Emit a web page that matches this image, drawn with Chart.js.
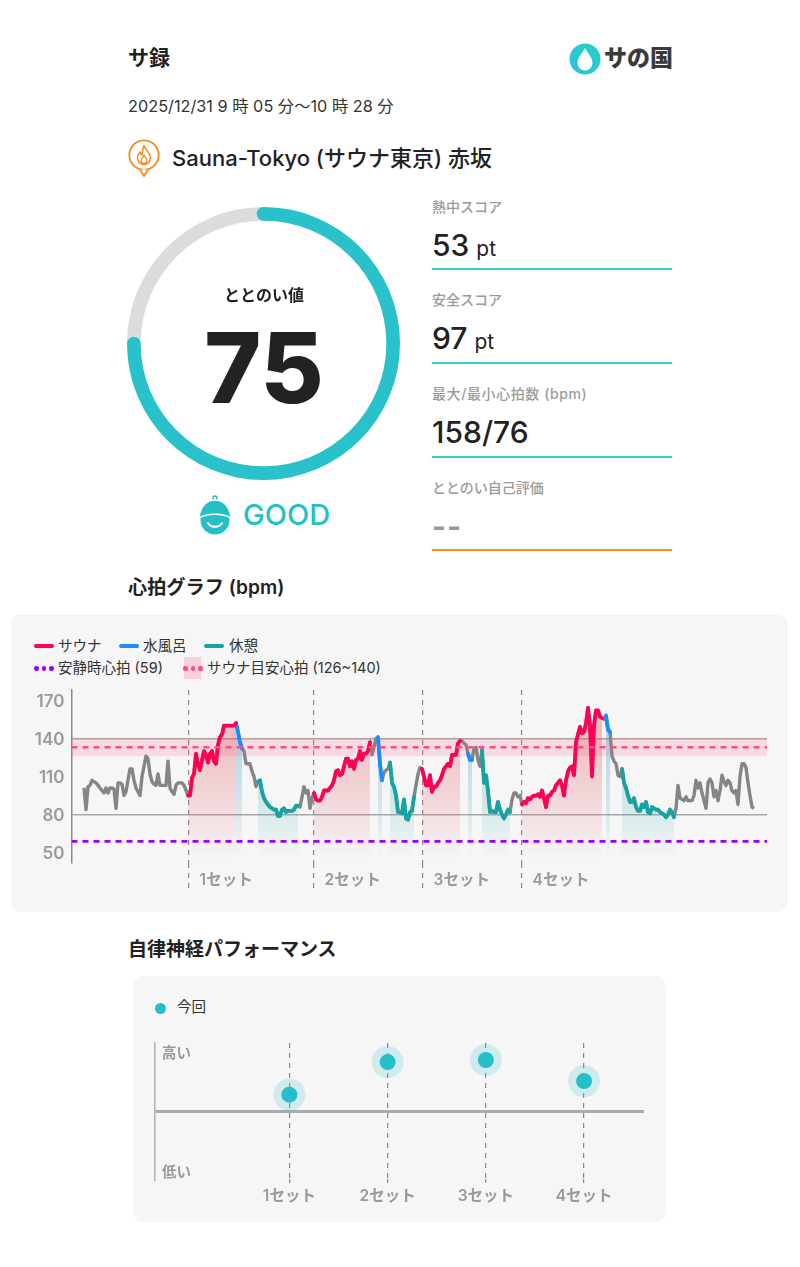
<!DOCTYPE html>
<html lang="ja"><head><meta charset="utf-8">
<script src="https://cdn.jsdelivr.net/npm/chart.js@4"></script>
<style>
html,body{margin:0;padding:0;background:#fff;width:800px;height:1267px;overflow:hidden}
body{position:relative;font-family:Inter,"Noto Sans CJK JP",sans-serif;color:#222}
.t{position:absolute;white-space:nowrap;transform:translateY(-50%);line-height:1.2}
.panel{position:absolute;background:#f6f6f6;border-radius:10px}
canvas{position:absolute;display:block}
.rule{position:absolute;left:432px;width:240px;height:2px;background:#38c9d0}
.lab{font-size:14px;font-weight:500;color:#9b9b9b;left:432px}
.val{left:432px;font-size:30px;font-weight:500;color:#222}
.val small{font-size:21px;font-weight:400;margin-left:7px}
.sw{position:absolute;height:4px;width:20px;border-radius:2px}
.lg{font-size:14.5px;color:#333}
.dots{position:absolute;width:20px;height:4px}
.dots i{position:absolute;top:0;width:4.5px;height:4.5px;border-radius:50%}
</style></head><body>
<div class="t" style="left:128px;top:58px;font-size:21px;font-weight:600">サ録</div>
<svg style="position:absolute;left:569px;top:43px" width="32" height="32" viewBox="0 0 32 32">
<defs><linearGradient id="lg" x1="0.8" y1="0" x2="0.2" y2="1"><stop offset="0" stop-color="#22d3c0"/><stop offset="1" stop-color="#33bfe8"/></linearGradient></defs>
<circle cx="16" cy="16" r="15.5" fill="url(#lg)"/><path d="M16 5C13 10.500 8.500 14.500 8.500 20a7.500 7.500 0 0 0 15 0C23.500 14.500 19 10.500 16 5Z" fill="#fff"/></svg>
<div class="t" style="left:604px;top:59px;font-size:23px;font-weight:900;color:#3a3a3a">サの国</div>
<div class="t" style="left:128px;top:106.500px;font-size:16.3px;color:#333">2025/12/31 9 時 05 分～10 時 28 分</div>
<svg style="position:absolute;left:127px;top:138px" width="34" height="40" viewBox="0 0 34 40">
<circle cx="17" cy="17" r="14.700" fill="#fff" stroke="#f28a1e" stroke-width="1.800"/>
<path d="M13 31.500 L17 38 L21 31.500" fill="#fff" stroke="#f28a1e" stroke-width="1.800" stroke-linejoin="round"/>
<path d="M17 7.500C18 12 23.500 14 23.500 20a6.500 6.500 0 0 1-13 0c0-3 1.500-4.500 2.500-6 .5 1.500 1 2.500 2 3C15.500 13 16 10 17 7.500Z" fill="none" stroke="#f28a1e" stroke-width="1.500" stroke-linejoin="round"/>
<path d="M17 17c.5 2 3 3 3 5.500a3 3 0 0 1-6 0c0-2 2.500-3 3-5.500Z" fill="none" stroke="#f28a1e" stroke-width="1.300"/></svg>
<div class="t" style="left:172px;top:158px;font-size:22px;font-weight:500;color:#222">Sauna-Tokyo (サウナ東京) 赤坂</div>

<canvas id="gauge" width="287" height="287" style="left:120px;top:200px;width:287px;height:287px"></canvas>
<div class="t" style="left:164px;width:200px;text-align:center;top:296px;font-size:16px;font-weight:600">ととのい値</div>
<div class="t" style="left:164px;width:200px;text-align:center;top:367px;font-size:97px;font-weight:800;color:#222;line-height:1">75</div>
<svg style="position:absolute;left:197px;top:494px" width="36" height="42" viewBox="0 0 36 42">
<circle cx="18" cy="4" r="2" fill="none" stroke="#25bfc8" stroke-width="1.500"/>
<circle cx="18" cy="26" r="14.500" fill="#25bfc8"/>
<path d="M2 24C3 12 10 6 18 6s15 6 16 18C26 19 10 19 2 24Z" fill="#25bfc8" stroke="#fff" stroke-width="1.500"/>
<path d="M11 29c3 5 11 5 14 0" fill="none" stroke="#fff" stroke-width="1.800" stroke-linecap="round"/></svg>
<div class="t" style="left:243px;top:515px;font-size:29px;font-weight:500;color:#25bfc8">GOOD</div>

<div class="t lab" style="top:207px">熱中スコア</div>
<div class="t val" style="top:245px">53<small>pt</small></div><div class="rule" style="top:268px"></div>
<div class="t lab" style="top:300px">安全スコア</div>
<div class="t val" style="top:338px">97<small>pt</small></div><div class="rule" style="top:362px"></div>
<div class="t lab" style="top:394px;letter-spacing:.6px">最大/最小心拍数 (bpm)</div>
<div class="t val" style="top:432px">158/76</div><div class="rule" style="top:456px"></div>
<div class="t lab" style="top:488px">ととのい自己評価</div>
<div class="t val" style="top:526px;color:#999;font-weight:700;letter-spacing:1px">--</div><div class="rule" style="top:549px;background:#f39020"></div>

<div class="t" style="left:128px;top:588px;font-size:19.200px;font-weight:600">心拍グラフ (bpm)</div>
<div class="panel" style="left:11px;top:614px;width:777px;height:298px"></div>
<div class="sw" style="left:34px;top:644px;background:#ff0055"></div><div class="t lg" style="left:58px;top:646px">サウナ</div>
<div class="sw" style="left:119px;top:644px;background:#1a8cff"></div><div class="t lg" style="left:143px;top:646px">水風呂</div>
<div class="sw" style="left:204px;top:644px;background:#16a3a3"></div><div class="t lg" style="left:229px;top:646px">休憩</div>
<div class="dots" style="left:34px;top:666px"><i style="left:0;background:#9900ff"></i><i style="left:7.500px;background:#9900ff"></i><i style="left:15px;background:#9900ff"></i></div>
<div class="t lg" style="left:58px;top:668px">安静時心拍 (59)</div>
<div style="position:absolute;left:184px;top:657px;width:17px;height:22px;background:#f8d0da"></div>
<div class="dots" style="left:183px;top:666px"><i style="left:0;background:#ff4d80"></i><i style="left:7.500px;background:#ff4d80"></i><i style="left:15px;background:#ff4d80"></i></div>
<div class="t lg" style="left:207px;top:668px">サウナ目安心拍 (126~140)</div>
<canvas id="hr" width="777" height="215" style="left:11px;top:685px;width:777px;height:215px"></canvas>

<div class="t" style="left:128px;top:950px;font-size:19px;font-weight:600">自律神経パフォーマンス</div>
<div class="panel" style="left:133px;top:976px;width:533px;height:246px"></div>
<div style="position:absolute;left:154.500px;top:1002.500px;width:11px;height:11px;border-radius:50%;background:#25bfc8"></div>
<div class="t lg" style="left:177px;top:1007px">今回</div>
<canvas id="ans" width="533" height="180" style="left:133px;top:1035px;width:533px;height:180px"></canvas>

<script>
const gaugeValues = [75, 25];
const setLabels = ['1セット', '2セット', '3セット', '4セット'];
const setStarts = [52.3, 114.8, 169.3, 218.8];
const yTicks = [50, 80, 110, 140, 170];
const restingHr = 59;
const targetLow = 126, targetHigh = 140, targetMid = 133;
const saunaRanges = [[52,76],[115,143],[169,188],[219,259]];
const coldRanges = [[76,79],[147,149],[192,194],[261,263]];
const restRanges = [[87,107],[153,165],[199,213],[269,295]];
const hrValues = [
101,84,102,103,107,106,105,103,101,99,97,101,97,101,101,100,85,105,105,104,
95,98,107,116,116,107,101,98,95,110,118,126,124,112,106,104,103,112,103,103,
103,103,122,101,98,96,103,105,105,105,103,99,95,95,109,112,128,119,115,123,
130,127,121,128,130,122,120,135,141,143,150,150,150,150,150,150,152,145,137,132,
130,120,120,120,114,110,102,106,107,98,93,90,88,86,85,84,84,79,79,84,
85,82,83,83,83,84,87,87,86,94,102,97,99,85,93,97,92,91,91,94,
99,99,99,101,103,107,114,115,111,112,118,124,124,118,122,116,123,124,130,123,
128,128,130,137,127,133,140,141,120,107,113,115,116,121,105,102,95,82,82,81,
92,77,76,82,83,94,103,112,117,116,110,103,103,111,98,102,102,105,107,111,
116,118,120,118,127,127,127,136,138,138,136,135,128,123,123,132,133,123,118,131,
105,111,99,82,83,82,82,90,84,80,77,80,84,82,92,97,97,94,95,88,
90,89,93,92,94,95,95,96,94,99,93,86,95,95,98,99,103,105,107,103,
95,107,114,117,118,111,137,143,149,144,145,152,164,150,110,150,162,162,157,156,
155,158,147,145,126,122,120,111,110,116,105,101,95,90,90,93,86,83,83,88,
86,90,82,81,86,85,84,84,82,81,80,78,80,84,82,78,85,103,93,92,
91,94,91,91,91,95,107,101,105,97,91,85,105,108,105,94,99,91,99,111,
106,103,107,105,99,97,99,88,110,120,120,117,105,95,86,85
];
const ansLabels = setLabels;
const ansSets = [1, 2, 3, 4];
const ansScores = [0.24, 0.72, 0.75, 0.44];
const ansTickValues = [-0.91, 0, 0.85];
const ansTickText = ['低い', '', '高い'];

const FONT = 'Inter, "Noto Sans CJK JP", sans-serif';
const TEAL = '#29c2ca';
const noMargins = s => { s.paddingTop = 0; s.paddingBottom = 0; s.paddingLeft = 0; s.paddingRight = 0; };

/* ---------- gauge ---------- */
const gaugeCaps = { id:'gaugeCaps', afterDatasetsDraw(chart){
  const arc = chart.getDatasetMeta(0).data[0];
  const r = (arc.innerRadius + arc.outerRadius) / 2, w = (arc.outerRadius - arc.innerRadius) / 2;
  const c = chart.ctx; c.save(); c.fillStyle = TEAL;
  for (const a of [arc.startAngle, arc.endAngle]) {
    c.beginPath(); c.arc(arc.x + r*Math.cos(a), arc.y + r*Math.sin(a), w, 0, Math.PI*2); c.fill();
  }
  c.restore();
}};
new Chart(document.getElementById('gauge'), {
  type:'doughnut',
  data:{labels:['ととのい値','残り'],datasets:[{data:gaugeValues,backgroundColor:[TEAL,'#dcdcdc'],borderWidth:0}]},
  options:{responsive:false,animation:false,cutout:'90%',layout:{padding:7},
    plugins:{legend:{display:false},tooltip:{enabled:false}}},
  plugins:[gaugeCaps]
});

/* ---------- heart rate ---------- */
const xMin = -6.25, xMax = 341.5;
const rangePoints = r => hrValues.slice(r[0], r[1]+1).map((y,k)=>({x:r[0]+k,y}));
const areaFill = rgb => ctx => {
  const {chart} = ctx; if (!chart.chartArea) return 'transparent';
  const ys = chart.scales.y, g = chart.ctx.createLinearGradient(0, ys.getPixelForValue(150), 0, ys.getPixelForValue(46));
  g.addColorStop(0, `rgba(${rgb},0.36)`);
  g.addColorStop(0.62, `rgba(${rgb},0.16)`);
  g.addColorStop(1, `rgba(${rgb},0)`);
  return g;
};
const phaseSets = (ranges, label, color, rgb) => ranges.map(r => ({
  label, data:rangePoints(r), borderColor:color, borderWidth:3.8, pointRadius:0, tension:0,
  borderJoinStyle:'round', borderCapStyle:'round', fill:{value:44}, backgroundColor:areaFill(rgb), order:1
}));
const hLine = (y,label,color) => ({label,data:[{x:xMin,y},{x:xMax,y}],borderColor:color,borderWidth:2.6,borderDash:[6,5],pointRadius:0,fill:false,order:0});
new Chart(document.getElementById('hr'), {
  type:'line',
  data:{datasets:[
    hLine(restingHr,'安静時心拍','#9900ff'),
    hLine(targetMid,'サウナ目安心拍','#ff4d80'),
    ...phaseSets(saunaRanges,'サウナ','#ff0055','228,80,90'),
    ...phaseSets(coldRanges,'水風呂','#1a8cff','60,150,200'),
    ...phaseSets(restRanges,'休憩','#16a3a3','30,170,160'),
    {label:'心拍',data:hrValues.map((y,x)=>({x,y})),borderColor:'#858585',borderWidth:3.4,pointRadius:0,tension:0,borderJoinStyle:'round',fill:false,order:2},
    {label:'目安帯',data:[{x:xMin,y:targetHigh},{x:xMax,y:targetHigh}],borderWidth:0,pointRadius:0,fill:{value:targetLow},backgroundColor:'rgba(255,70,120,0.15)',order:3}
  ]},
  options:{responsive:false,animation:false,parsing:false,
    layout:{autoPadding:false,padding:{top:5,right:21,left:0,bottom:0}},
    plugins:{legend:{display:false},tooltip:{enabled:false}},
    scales:{
      x:{type:'linear',min:xMin,max:xMax,
        afterBuildTicks:s=>{s.ticks=setStarts.map(value=>({value}));},
        afterFit:s=>{s.height=37;noMargins(s);},
        grid:{color:'#8a8a8a',lineWidth:1.2,tickLength:30,tickColor:'#8a8a8a',tickBorderDash:[5,5],tickWidth:1.2},
        border:{display:false,dash:[5,5]},
        ticks:{autoSkip:false,maxRotation:0,minRotation:0,align:'start',labelOffset:11,padding:-22,color:'#9a9a9a',
          font:{family:FONT,size:15.5,weight:'600'},
          callback:(v,i)=>setLabels[i]}
      },
      y:{min:42,max:178,
        afterBuildTicks:s=>{s.ticks=yTicks.map(value=>({value}));},
        afterFit:s=>{s.width=60.5;noMargins(s);},
        grid:{drawTicks:false,lineWidth:1.5,color:c=>(c.tick&&(c.tick.value===80||c.tick.value===140))?'#a8a8a8':'transparent'},
        border:{display:true,color:'#8a8a8a',width:1.5},
        ticks:{padding:7,labelOffset:1.5,color:'#9a9a9a',font:{family:FONT,size:17,weight:'600'}}
      }
    }
  }
});

/* ---------- autonomic ---------- */
const ansPoints = () => ansSets.map((x,i)=>({x,y:ansScores[i]}));
new Chart(document.getElementById('ans'), {
  type:'scatter',
  data:{datasets:[
    {label:'今回',data:ansPoints(),pointRadius:8,pointBackgroundColor:'#25bfc8',pointBorderWidth:0,order:0},
    {label:'halo',data:ansPoints(),pointRadius:16,pointBackgroundColor:'rgba(37,191,200,0.18)',pointBorderWidth:0,order:1}
  ]},
  options:{responsive:false,animation:false,parsing:false,
    layout:{autoPadding:false,padding:{top:8,right:22,left:0,bottom:0}},
    plugins:{legend:{display:false},tooltip:{enabled:false}},
    scales:{
      x:{type:'linear',min:-0.368,max:4.61,
        afterBuildTicks:s=>{s.ticks=ansSets.map(value=>({value}));},
        afterFit:s=>{s.height=36;noMargins(s);},
        grid:{color:'#8a8a8a',lineWidth:1.2,tickLength:4,tickColor:'#8a8a8a',tickBorderDash:[5,5],tickWidth:1.2},
        border:{display:false,dash:[5,5]},
        ticks:{autoSkip:false,maxRotation:0,minRotation:0,padding:4,color:'#9a9a9a',font:{family:FONT,size:15.5,weight:'600'},
          callback:(v,i)=>ansLabels[i]}
      },
      y:{min:-1,max:1,
        afterBuildTicks:s=>{s.ticks=ansTickValues.map(value=>({value}));},
        afterFit:s=>{s.width=22;noMargins(s);},
        grid:{drawTicks:false,lineWidth:3,color:c=>(c.tick&&c.tick.value===0)?'#ababab':'transparent'},
        border:{display:true,color:'#b0b0b0',width:1.5},
        ticks:{mirror:true,padding:7,color:'#9a9a9a',font:{family:FONT,size:14.5,weight:'600'},
          callback:(v,i)=>ansTickText[i]}
      }
    }
  }
});
</script>
</body></html>
